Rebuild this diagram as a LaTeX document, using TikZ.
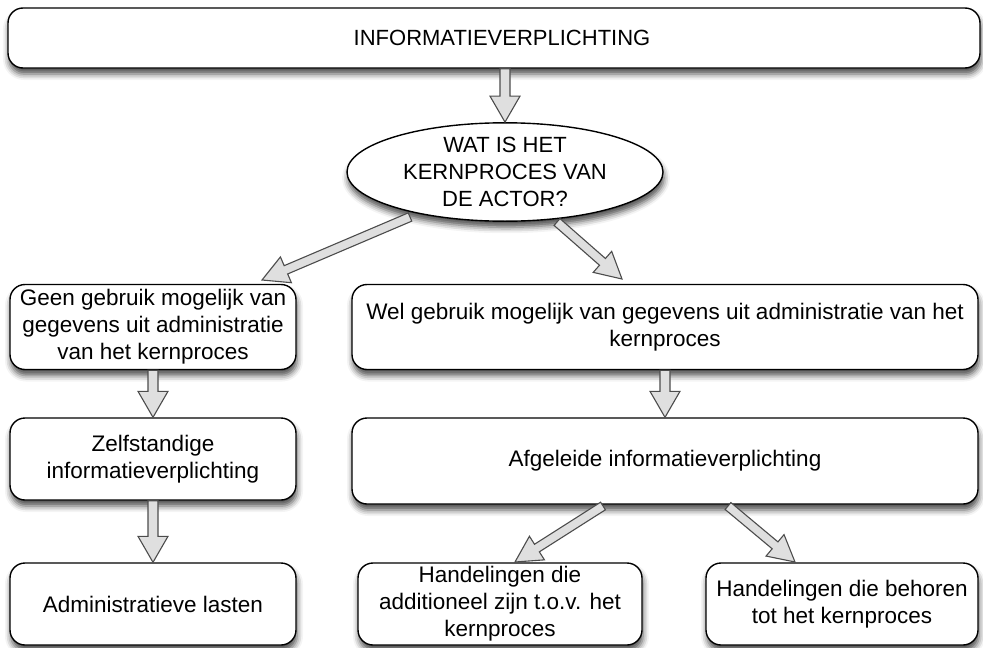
\documentclass[tikz,border=0pt]{standalone}
\usepackage{fontspec}
\setmainfont{Liberation Sans}
\usetikzlibrary{shapes.geometric,calc,shadows.blur}
\tikzset{
  box/.style={draw=black, line width=1.4pt, fill=white, rounded corners=15pt,
    align=center, inner sep=0pt, font=\fontsize{22.5}{27}\selectfont,
    blur shadow={shadow xshift=1pt, shadow yshift=-6pt, shadow blur radius=6pt, shadow opacity=70}},
  ellbox/.style={box, ellipse, rounded corners=0pt, font=\fontsize{22}{27}\selectfont},
  barrow/.style={draw=black!70, line width=1.1pt, fill=gray!25, line join=miter}
}
\newcommand\blockarrow[4]{% from, to, half shaft, half head
  \coordinate (bah) at ($(#2)!26pt!(#1)$);
  \draw[barrow] ($(#1)!#3!90:(#2)$) -- ($(bah)!#3!90:(#2)$) -- ($(bah)!#4!90:(#2)$)
    -- (#2) -- ($(bah)!#4!-90:(#2)$) -- ($(bah)!#3!-90:(#2)$) -- ($(#1)!#3!-90:(#2)$) -- cycle;
}
\begin{document}
\begin{tikzpicture}[x=1pt,y=-1pt]
\useasboundingbox (0,0) rectangle (983,648);
\node[box, minimum width=972pt, minimum height=60pt, font=\fontsize{22}{27}\selectfont] (top) at (494,38) {\hspace*{16pt}INFORMATIEVERPLICHTING};
\node[ellbox, minimum width=316pt, minimum height=94pt] (ell) at (505,172) {WAT IS HET\\KERNPROCES VAN\\DE ACTOR?};
\node[box, minimum width=286pt, minimum height=85pt] (L1) at (153,327) {Geen gebruik mogelijk van\\gegevens uit administratie\\van het kernproces};
\node[box, minimum width=626pt, minimum height=85pt] (R1) at (665,327) {Wel gebruik mogelijk van gegevens uit administratie van het\\kernproces};
\node[box, minimum width=286pt, minimum height=82pt] (L2) at (153,459) {Zelfstandige\\informatieverplichting};
\node[box, minimum width=626pt, minimum height=86pt] (R2) at (665,461) {Afgeleide informatieverplichting};
\node[box, minimum width=286pt, minimum height=82pt] (L3) at (153,604) {Administratieve lasten};
\node[box, minimum width=284pt, minimum height=82pt] (M3) at (500,604) {Handelingen die\\additioneel zijn t.o.v. het\\kernproces};
\node[box, minimum width=272pt, minimum height=82pt] (R3) at (842,604) {Handelingen die behoren\\tot het kernproces};
% connector end points
\coordinate (a1s) at (ell.north |- top.south);
\coordinate (d1s) at (410,217);
\coordinate (d1t) at (262,280);
\coordinate (d2s) at (557,222);
\coordinate (d2t) at (622,279);
\coordinate (d3s) at (603,506);
\coordinate (d3t) at (515,562);
\coordinate (d4s) at (728,506);
\coordinate (d4t) at (795,562);
\blockarrow{a1s}{ell.north}{5pt}{15pt}
\blockarrow{d1s}{d1t}{4.5pt}{14pt}
\blockarrow{d2s}{d2t}{4.5pt}{14pt}
\blockarrow{L1.south}{L2.north}{5pt}{15pt}
\blockarrow{L2.south}{L3.north}{5pt}{15pt}
\blockarrow{R1.south}{R2.north}{5pt}{15pt}
\blockarrow{d3s}{d3t}{4.5pt}{14pt}
\blockarrow{d4s}{d4t}{4.5pt}{14pt}
\end{tikzpicture}
\end{document}
